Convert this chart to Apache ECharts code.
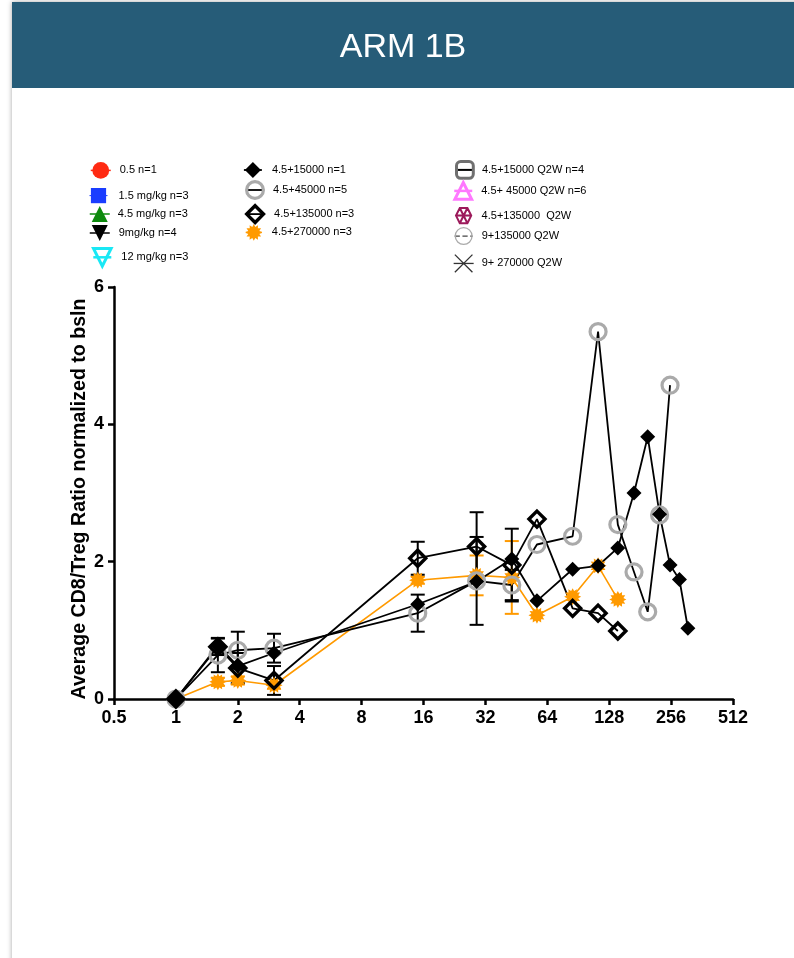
<!DOCTYPE html>
<html>
<head>
<meta charset="utf-8">
<title>ARM 1B</title>
<script src="https://cdn.jsdelivr.net/npm/echarts@6/dist/echarts.min.js"></script>
<style>
  html, body { margin: 0; padding: 0; background: #ffffff; }
  #chart { width: 794px; height: 958px; }
</style>
</head>
<body>
<div id="chart"></div>
<script>
// Tick labels
const dayTicks = [0.5, 1, 2, 4, 8, 16, 32, 64, 128, 256, 512];
const ratioTicks = [0, 2, 4, 6];

// 4.5+15000 n=1
const days15k = [1, 1.6, 2, 3, 15, 29, 43, 57, 85, 113, 141, 169, 197, 225, 253, 281, 309];
const ratio15k = [0, 0.78, 0.48, 0.67, 1.38, 1.71, 2.04, 1.43, 1.89, 1.94, 2.2, 3.0, 3.82, 2.69, 1.95, 1.74, 1.03];

// 4.5+45000 n=5
const days45k = [1, 1.6, 2, 3, 15, 29, 43, 57, 85, 113, 141, 169, 197, 225, 253];
const ratio45k = [0, 0.64, 0.71, 0.74, 1.25, 1.72, 1.66, 2.25, 2.37, 5.35, 2.54, 1.85, 1.27, 2.68, 4.57];
const sem45k = [null, 0.25, 0.27, 0.21, 0.27, 0.64, 0.22, null, null, null, null, null, null, null, null];

// 4.5+135000 n=3
const days135k = [1, 1.6, 2, 3, 15, 29, 43, 57, 85, 113, 141];
const ratio135k = [0, 0.76, 0.45, 0.27, 2.05, 2.22, 1.95, 2.62, 1.32, 1.25, 0.99];
const sem135k = [null, 0.12, 0.22, 0.21, 0.24, 0.5, 0.53, null, null, null, null];

// 4.5+270000 n=3
const days270k = [1, 1.6, 2, 3, 15, 29, 43, 57, 85, 113, 141];
const ratio270k = [0, 0.25, 0.27, 0.2, 1.73, 1.8, 1.77, 1.22, 1.49, 1.94, 1.45];
const sem270k = [null, 0.06, 0.06, 0.05, 0.05, 0.29, 0.53, null, null, null, null];

const FONT = '"Liberation Sans", Arial, Helvetica, sans-serif';
const CLEAR = 'rgba(0,0,0,0)';

// ---- marker shapes ----
function starPath(points, inner) {
  let d = '';
  for (let i = 0; i < points * 2; i++) {
    const r = i % 2 ? inner : 1;
    const a = Math.PI * i / points - Math.PI / 2;
    d += (i ? 'L' : 'M') + (r * Math.cos(a)).toFixed(3) + ',' + (r * Math.sin(a)).toFixed(3);
  }
  return 'path://' + d + 'Z';
}
function hexSpokePath() {
  const pts = [];
  for (let i = 0; i < 6; i++) {
    const a = Math.PI / 3 * i;
    pts.push([(Math.cos(a)).toFixed(3), (Math.sin(a)).toFixed(3)]);
  }
  let d = 'M' + pts.map(p => p.join(',')).join('L') + 'Z';
  for (let i = 0; i < 3; i++) d += 'M' + pts[i].join(',') + 'L' + pts[i + 3].join(',');
  return 'path://' + d;
}
const DOWN_TRI = 'path://M0,0L10,0L5,9Z';
const CROSS = 'path://M0,0L10,10M10,0L0,10';
const ASTERISK = starPath(12, 0.68);
const HEX = hexSpokePath();

const toLog = d => Math.log2(d);
function pairs(days, vals) { return days.map((d, i) => [toLog(d), vals[i]]); }
function errItems(days, vals, errs) {
  const out = [];
  days.forEach((d, i) => { if (errs[i] != null) out.push([toLog(d), vals[i], errs[i]]); });
  return out;
}
function errorBarRenderer(color) {
  return function (params, api) {
    const x = api.value(0), y = api.value(1), e = api.value(2);
    const top = api.coord([x, y + e]);
    const bot = api.coord([x, y - e]);
    const half = 7;
    const style = { stroke: color, lineWidth: 2 };
    return {
      type: 'group',
      children: [
        { type: 'line', shape: { x1: top[0], y1: top[1], x2: bot[0], y2: bot[1] }, style },
        { type: 'line', shape: { x1: top[0] - half, y1: top[1], x2: top[0] + half, y2: top[1] }, style },
        { type: 'line', shape: { x1: bot[0] - half, y1: bot[1], x2: bot[0] + half, y2: bot[1] }, style }
      ]
    };
  };
}

// ---- series definitions ----
function lineSeries(name, data, o) {
  return {
    type: 'line', name, data,
    symbol: o.symbol, symbolSize: o.size || 14, symbolKeepAspect: true,
    showAllSymbol: true,
    itemStyle: { color: o.fill, borderColor: o.border || o.fill, borderWidth: o.bw || 0 },
    lineStyle: { color: o.line, width: o.lw, type: o.dash ? 'dashed' : 'solid' },
    emphasis: { disabled: true },
    z: 3
  };
}

const series = [
  { type: 'custom', name: 'sem-270k', renderItem: errorBarRenderer('#ff9a00'), data: errItems(days270k, ratio270k, sem270k), z: 1, silent: true },
  { type: 'custom', name: 'sem-45k', renderItem: errorBarRenderer('#000000'), data: errItems(days45k, ratio45k, sem45k), z: 1, silent: true },
  { type: 'custom', name: 'sem-135k', renderItem: errorBarRenderer('#000000'), data: errItems(days135k, ratio135k, sem135k), z: 1, silent: true },

  lineSeries('0.5 n=1', [], { symbol: 'circle', fill: '#ff2a12', line: '#ff2a12', lw: 1.5 }),
  lineSeries('1.5 mg/kg n=3', [], { symbol: 'rect', fill: '#1a3dff', line: '#1a3dff', lw: 1 }),
  lineSeries('4.5 mg/kg n=3', [], { symbol: 'triangle', fill: '#0d8a0d', line: '#0d8a0d', lw: 1.5 }),
  lineSeries('9mg/kg n=4', [], { symbol: DOWN_TRI, fill: '#000000', line: '#000000', lw: 1.5 }),
  lineSeries('12 mg/kg n=3', [], { symbol: DOWN_TRI, fill: CLEAR, border: '#19e8f5', bw: 3, line: '#19e8f5', lw: 2.5 }),

  lineSeries('4.5+270000 n=3', pairs(days270k, ratio270k), { symbol: ASTERISK, size: 17, fill: '#ff9a00', line: '#ff9a00', lw: 1.6 }),
  lineSeries('4.5+45000 n=5', pairs(days45k, ratio45k), { symbol: 'circle', size: 16, fill: CLEAR, border: '#aaaaaa', bw: 3.2, line: '#000000', lw: 1.8 }),
  lineSeries('4.5+135000 n=3', pairs(days135k, ratio135k), { symbol: 'diamond', size: 16, fill: CLEAR, border: '#000000', bw: 3.4, line: '#000000', lw: 1.8 }),
  lineSeries('4.5+15000 n=1', pairs(days15k, ratio15k), { symbol: 'diamond', size: 15, fill: '#000000', line: '#000000', lw: 1.8 }),

  lineSeries('4.5+15000 Q2W n=4', [], { symbol: 'roundRect', fill: CLEAR, border: '#707070', bw: 3, line: '#000000', lw: 2 }),
  lineSeries('4.5+ 45000 Q2W n=6', [], { symbol: 'triangle', fill: CLEAR, border: '#ff78ff', bw: 3, line: '#ff78ff', lw: 2.5 }),
  lineSeries('4.5+135000  Q2W', [], { symbol: HEX, fill: CLEAR, border: '#9c1a5b', bw: 2, line: '#9c1a5b', lw: 1 }),
  lineSeries('9+135000 Q2W', [], { symbol: 'circle', fill: CLEAR, border: '#aaaaaa', bw: 1.3, line: '#444444', lw: 1.3, dash: true }),
  lineSeries('9+ 270000 Q2W', [], { symbol: CROSS, fill: CLEAR, border: '#333333', bw: 1.3, line: '#333333', lw: 1.3 })
];

// ---- legend placement (one box per entry) ----
const legendSlots = [
  { name: '0.5 n=1', left: 90, top: 162, w: 20, h: 21, pad: 4 },
  { name: '1.5 mg/kg n=3', left: 89, top: 188, w: 18, h: 19, pad: 6 },
  { name: '4.5 mg/kg n=3', left: 89, top: 206, w: 20, h: 20, pad: 3 },
  { name: '9mg/kg n=4', left: 89, top: 225, w: 20, h: 20, pad: 4 },
  { name: '12 mg/kg n=3', left: 92, top: 247, w: 18, h: 22, pad: 5 },
  { name: '4.5+15000 n=1', left: 243, top: 162, w: 18, h: 20, pad: 5 },
  { name: '4.5+45000 n=5', left: 245, top: 180, w: 16, h: 21, pad: 5 },
  { name: '4.5+135000 n=3', left: 245, top: 204, w: 16, h: 21, pad: 6 },
  { name: '4.5+270000 n=3', left: 245, top: 224, w: 16, h: 21, pad: 5 },
  { name: '4.5+15000 Q2W n=4', left: 455, top: 160, w: 16, h: 21, pad: 4 },
  { name: '4.5+ 45000 Q2W n=6', left: 453, top: 181, w: 18, h: 21, pad: 4 },
  { name: '4.5+135000  Q2W', left: 455, top: 207, w: 16, h: 19, pad: 5 },
  { name: '9+135000 Q2W', left: 454, top: 227, w: 18, h: 21, pad: 4 },
  { name: '9+ 270000 Q2W', left: 453, top: 254, w: 20, h: 22, pad: 3 }
];

const legends = legendSlots.map(s => ({
  data: [s.name],
  left: s.left, top: s.top,
  itemWidth: s.w, itemHeight: s.h,
  padding: 0,
  selectedMode: false,
  itemStyle: { borderWidth: 'inherit' },
  lineStyle: { width: 'inherit' },
  textStyle: { fontFamily: FONT, fontSize: 11, color: '#000000', padding: [0, 0, 0, s.pad] }
}));

const chart = echarts.init(document.getElementById('chart'), null, { renderer: 'canvas' });
chart.setOption({
  animation: false,
  backgroundColor: '#ffffff',
  graphic: [
    { type: 'rect', z: -10, shape: { x: 12, y: 2, width: 800, height: 1000 },
      style: { fill: '#ffffff', shadowBlur: 5, shadowColor: 'rgba(0,0,0,0.35)' } },
    { type: 'rect', z: -9, shape: { x: 12, y: 2, width: 782, height: 86 }, style: { fill: '#265c78' } }
  ],
  title: {
    text: 'ARM 1B',
    left: 403, top: 31, textAlign: 'center', padding: 0,
    textStyle: { color: '#ffffff', fontFamily: FONT, fontSize: 34, fontWeight: 'normal' }
  },
  legend: legends,
  grid: { left: 114, right: 61, top: 287, bottom: 259, containLabel: false },
  xAxis: {
    type: 'value',
    min: toLog(dayTicks[0]), max: toLog(dayTicks[dayTicks.length - 1]), interval: 1,
    axisLine: { onZero: false, lineStyle: { color: '#000000', width: 2.5 } },
    axisTick: { show: true, length: 6, lineStyle: { color: '#000000', width: 2.5 } },
    splitLine: { show: false },
    axisLabel: {
      margin: 10, color: '#000000', fontFamily: FONT, fontSize: 18, fontWeight: 'bold',
      formatter: v => { const i = Math.round(v - toLog(dayTicks[0])); return dayTicks[i] != null ? String(dayTicks[i]) : ''; }
    }
  },
  yAxis: {
    type: 'value',
    min: ratioTicks[0], max: ratioTicks[ratioTicks.length - 1], interval: ratioTicks[1] - ratioTicks[0],
    name: 'Average CD8/Treg Ratio normalized to bsln',
    nameLocation: 'middle', nameGap: 24, nameMoveOverlap: false,
    nameTextStyle: { color: '#000000', fontFamily: FONT, fontSize: 19.6, fontWeight: 'bold', padding: [0, 12, 0, 0] },
    axisLine: { show: true, onZero: false, lineStyle: { color: '#000000', width: 2.5 } },
    axisTick: { show: true, length: 6, lineStyle: { color: '#000000', width: 2.5 } },
    splitLine: { show: false },
    axisLabel: { margin: 10, color: '#000000', fontFamily: FONT, fontSize: 18, fontWeight: 'bold' }
  },
  series
});
</script>
</body>
</html>
